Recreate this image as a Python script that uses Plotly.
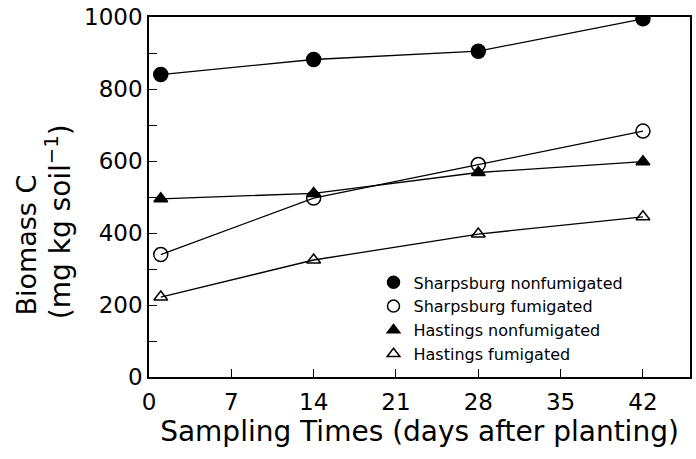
import plotly.graph_objects as go

days = [1, 14, 28, 42]
sharps_nonfum = [840, 882, 905, 995]
sharps_fum = [340, 497, 590, 683]
hast_nonfum = [495, 510, 568, 598]
hast_fum = [222, 325, 397, 445]
names = ["Sharpsburg nonfumigated", "Sharpsburg fumigated",
         "Hastings nonfumigated", "Hastings fumigated"]
x_ticks = [0, 7, 14, 21, 28, 35, 42]
y_ticks = [0, 200, 400, 600, 800, 1000]

FONT = "DejaVu Sans"
series = [
    (sharps_nonfum, "circle", 14, 12),
    (sharps_fum, "circle-open", 14, 12),
    (hast_nonfum, "triangle-up", 12, 11),
    (hast_fum, "triangle-up-open", 12, 11),
]

fig = go.Figure()
for (vals, sym, size, lsize), nm in zip(series, names):
    fig.add_trace(go.Scatter(
        x=days, y=vals, name=nm, mode="lines+markers", showlegend=False,
        line=dict(color="black", width=1.3),
        marker=dict(symbol=sym, size=size, color="black",
                    line=dict(color="black", width=1.5)),
    ))
for (vals, sym, size, lsize), nm in zip(series, names):
    fig.add_trace(go.Scatter(
        x=[None], y=[None], name=nm, mode="markers", showlegend=True,
        marker=dict(symbol=sym, size=lsize, color="black",
                    line=dict(color="black", width=1.5)),
    ))

fig.update_layout(
    width=696, height=459,
    margin=dict(l=149, r=4, t=16, b=82),
    paper_bgcolor="white", plot_bgcolor="white",
    font=dict(family=FONT, color="black"),
    showlegend=True,
    legend=dict(x=0.415, y=0.31, xanchor="left", yanchor="top",
                font=dict(size=16, family=FONT), bgcolor="rgba(0,0,0,0)",
                tracegroupgap=0, itemwidth=30),
    xaxis=dict(range=[0, 46], tickvals=x_ticks, ticks="inside", ticklen=8,
               tickwidth=1.3, tickcolor="black",
               showline=True, linecolor="black", linewidth=1.5, mirror=True,
               showgrid=False, zeroline=False, ticklabelstandoff=4,
               tickfont=dict(size=23),
               title=dict(text="Sampling Times (days after planting)",
                          font=dict(size=28), standoff=4)),
    yaxis=dict(range=[0, 1000], tickvals=y_ticks, ticks="inside", ticklen=8,
               tickwidth=1.3, tickcolor="black",
               minor=dict(dtick=100, ticks="inside", ticklen=8,
                          tickcolor="black", tickwidth=1.3),
               showline=True, linecolor="black", linewidth=1.5, mirror=True,
               showgrid=False, zeroline=False,
               tickfont=dict(size=23)),
)

fig.add_annotation(text="Biomass C", x=0, y=365, xref="paper", yref="y",
                   xanchor="center", yanchor="middle", showarrow=False,
                   textangle=-90, font=dict(size=27, family=FONT),
                   xshift=-122)
fig.add_annotation(text="(mg kg soil<sup>\u22121</sup>)", x=0, y=430,
                   xref="paper", yref="y",
                   xanchor="center", yanchor="middle", showarrow=False,
                   textangle=-90, font=dict(size=28, family=FONT),
                   xshift=-91)
fig.write_html("out.html")
